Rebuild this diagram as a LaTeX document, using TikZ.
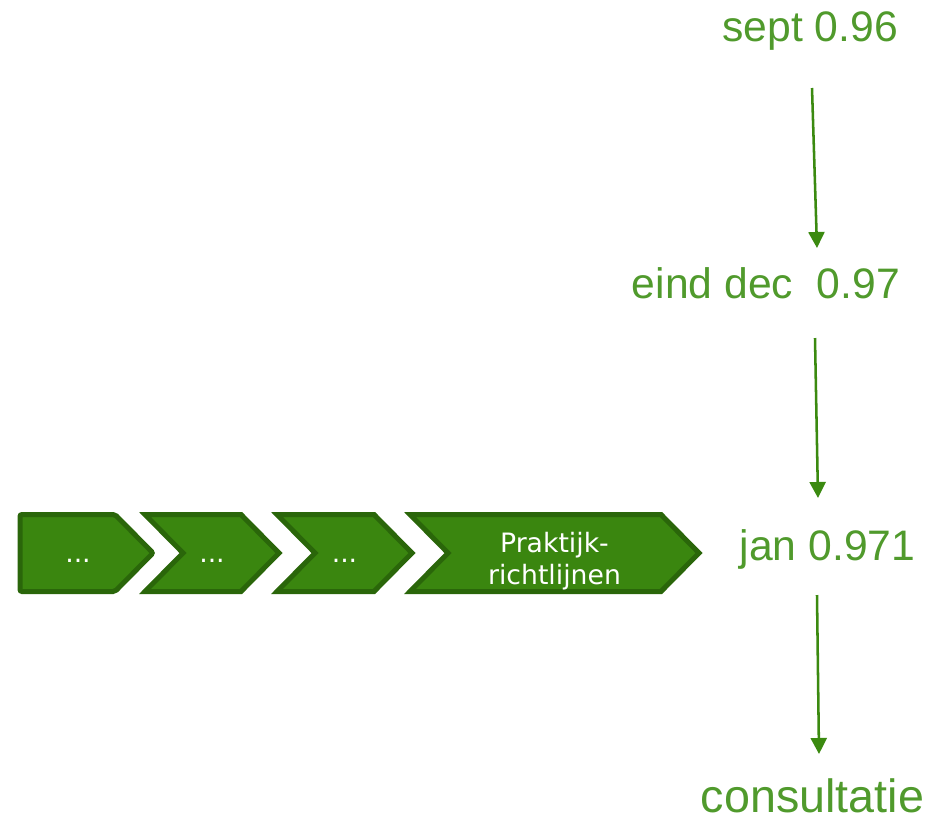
\documentclass[tikz,border=0pt]{standalone}
\usepackage{fontspec}
\setmainfont{Liberation Sans}
\newfontfamily\chevfont{DejaVu Sans}
\usetikzlibrary{arrows.meta,positioning}

\definecolor{labelgreen}{RGB}{80,154,44}
\definecolor{arrowgreen}{RGB}{59,138,16}
\definecolor{chevfill}{RGB}{58,134,15}
\definecolor{chevline}{RGB}{42,102,10}

\tikzset{
	stage/.style={fill=chevfill,draw=chevline,line width=3.75pt,line join=miter},
	stagetext/.style={text=white,font=\chevfont\fontsize{20}{24}\selectfont,align=center},
	milestone/.style={text=labelgreen,font=\fontsize{32}{38}\selectfont,anchor=base,inner sep=0pt},
	flow/.style={draw=arrowgreen,line width=1.9pt,-{Triangle[length=12pt,width=12pt]}}
}

% chevron: name, left x, top right x, text
\newcommand{\chevron}[4]{
	\path[stage] (#2,514.5) -- (#3,514.5) -- (#3+38,553) -- (#3,591.5) -- (#2,591.5) -- (#2+38,553) -- cycle;
	\node[stagetext] (#1) at ({(#2+#3+38)/2},561) {#4};
}

\begin{document}
\begin{tikzpicture}[x=0.75pt,y=-0.75pt]
	\useasboundingbox (0,0) rectangle (936,819);

	% process chevrons
	\path[stage,rounded corners=1.5pt] (20,514.5) -- (115,514.5) -- (153,553) -- (115,591.5) -- (20,591.5) -- cycle;
	\node[stagetext] (stageA) at (78,561) {...};
	\chevron{stageB}{145}{241}{...}
	\chevron{stageC}{277}{374}{...}
	\chevron{stageD}{410}{661}{Praktijk-\\richtlijnen}

	% timeline
	\node[milestone] (sept) at (810,41) {sept 0.96};
	\node[milestone] (dec) at (766,298) {eind dec\ \ 0.97};
	\node[milestone] (jan) at (827.5,560) {jan 0.971};
	\node[milestone,text depth=0pt,font=\fontsize{35}{42}\selectfont] (cons) at (812.5,812) {consultatie};

	\coordinate (septout) at (812,88);
	\coordinate (decin) at (817,248);
	\coordinate (decout) at (815,338);
	\coordinate (janin) at (818,498);
	\coordinate (janout) at (817,595);
	\coordinate (consin) at (819,754);

	\draw[flow] (septout) -- (decin);
	\draw[flow] (decout) -- (janin);
	\draw[flow] (janout) -- (consin);
\end{tikzpicture}
\end{document}
